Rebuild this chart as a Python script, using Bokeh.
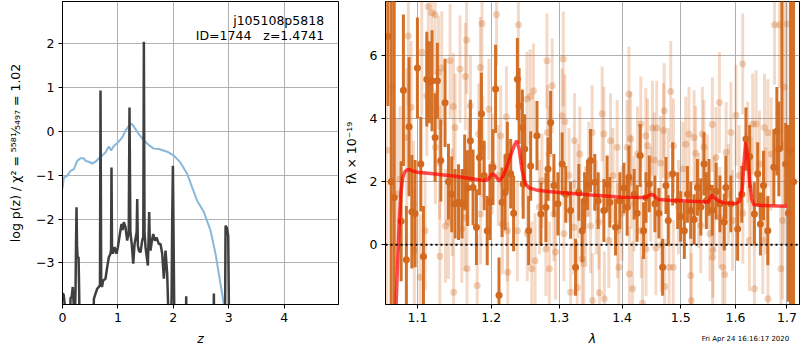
from bokeh.plotting import figure
from bokeh.layouts import row
from bokeh.models import (ColumnDataSource, FixedTicker, PrintfTickFormatter,
                          Label, Range1d, Span, LogAxis)
from bokeh.embed import file_html
from bokeh.resources import INLINE

# ---------------- left panel: log p(z) ----------------
z_pz = [0.000, 0.020, 0.040, 0.055, 0.130, 0.145, 0.165, 0.185, 0.200, 0.215,
        0.235, 0.245, 0.253, 0.262, 0.272, 0.290, 0.300, 0.313, 0.550, 0.566,
        0.596, 0.626, 0.656, 0.676, 0.686, 0.698, 0.712, 0.734, 0.776, 0.806,
        0.836, 0.866, 0.876, 0.884, 0.894, 0.909, 0.939, 0.975, 0.999, 1.035,
        1.065, 1.085, 1.107, 1.137, 1.167, 1.195, 1.209, 1.225, 1.252, 1.276,
        1.300, 1.338, 1.348, 1.360, 1.378, 1.408, 1.438, 1.458, 1.468, 1.480,
        1.498, 1.540, 1.552, 1.564, 1.576, 1.588, 1.612, 1.637, 1.667, 1.697,
        1.739, 1.769, 1.799, 1.829, 1.859, 1.889, 1.931, 1.968, 1.980, 1.992,
        2.005, 2.022, 2.222, 2.232, 2.242, 2.721, 2.731, 2.741, 2.930, 2.942,
        2.965, 2.990, 3.010, 4.980]
logpz = [-3.70, -3.72, -3.95, -5.0, -5.0, -3.80, -3.78, -3.55, -3.90, -5.0,
         -3.60, -2.50, -1.73, -2.60, -2.87, -2.87, -3.60, -5.0, -5.0, -3.82,
         -3.70, -3.59, -3.55, -3.50, 0.94, -3.40, -3.55, -3.40, -3.36, -3.10,
         -2.87, -2.79, -2.70, -0.82, -2.70, -2.79, -2.64, -2.79, -2.64, -2.34,
         -2.11, -2.25, -2.07, -2.19, -2.49, -2.30, 0.55, -2.30, -2.60, -3.02,
         -2.57, -2.30, -1.54, -2.60, -2.72, -2.76, -2.49, -2.40, 2.05, -2.30,
         -2.64, -3.06, -2.50, -1.84, -2.60, -2.72, -2.50, -2.34, -2.49, -2.42,
         -2.57, -2.57, -2.79, -3.36, -2.72, -3.25, -5.0, -3.85, -2.00, -0.78,
         -2.50, -5.0, -5.0, -3.76, -5.0, -5.0, -3.70, -5.0, -5.0, -2.15,
         -2.20, -2.38, -5.0, -5.0]

z_chi = [0.000, 0.024, 0.084, 0.144, 0.205, 0.265, 0.325, 0.385, 0.415, 0.475,
         0.535, 0.596, 0.656, 0.716, 0.776, 0.836, 0.878, 0.927, 0.999, 1.077,
         1.137, 1.197, 1.245, 1.288, 1.378, 1.468, 1.558, 1.649, 1.739, 1.889,
         2.010, 2.130, 2.251, 2.341, 2.430, 2.551, 2.671, 2.761, 2.821, 2.912,
         2.972]
chi_curve = [-1.30, -1.05, -1.01, -0.90, -0.86, -0.67, -0.61, -0.61, -0.67, -0.69,
             -0.73, -0.69, -0.61, -0.55, -0.48, -0.34, -0.43, -0.33, -0.25, -0.14,
             0.02, 0.13, 0.18, 0.11, -0.06, -0.20, -0.31, -0.39, -0.40, -0.46,
             -0.55, -0.71, -0.97, -1.28, -1.58, -1.84, -2.26, -2.79, -3.25, -3.95,
             -4.60]

z_ticks = [0, 1, 2, 3, 4]
logp_ticks = [-3, -2, -1, 0, 1, 2]
root_name = "j105108p5818"
id_text = "ID=1744\u00a0\u00a0\u00a0z=1.4741"

# ---------------- right panel: spectrum ----------------
lam_dark = [1.0624, 1.0665, 1.0703, 1.0791, 1.0820, 1.0858, 1.0892, 1.0928, 1.0970, 1.1000,
            1.1044, 1.1078, 1.1122, 1.1156, 1.1191, 1.1231, 1.1262, 1.1307, 1.1364, 1.1410,
            1.1454, 1.1499, 1.1546, 1.1594, 1.1630, 1.1667, 1.1708, 1.1745, 1.1792, 1.1834,
            1.1862, 1.1900, 1.1943, 1.1981, 1.2024, 1.2061, 1.2110, 1.2153, 1.2196, 1.2230,
            1.2278, 1.2320, 1.2375, 1.2400, 1.2448, 1.2460, 1.2482, 1.2540, 1.2570, 1.2664,
            1.2723, 1.2798, 1.2830, 1.2869, 1.2919, 1.2980, 1.3045, 1.3100, 1.3175, 1.3253,
            1.3304, 1.3356, 1.3394, 1.3440, 1.3489, 1.3557, 1.3610, 1.3702, 1.3755, 1.3799,
            1.3892, 1.3963, 1.4030, 1.4084, 1.4112, 1.4200, 1.4250, 1.4302, 1.4359, 1.4400,
            1.4455, 1.4552, 1.4620, 1.4684, 1.4742, 1.4782, 1.4859, 1.4947, 1.5000, 1.5065,
            1.5120, 1.5179, 1.5240, 1.5299, 1.5360, 1.5418, 1.5460, 1.5509, 1.5570, 1.5640,
            1.5710, 1.5790, 1.5820, 1.5914, 1.6041, 1.6120, 1.6199, 1.6270, 1.6361, 1.6425,
            1.6478, 1.6537, 1.6622, 1.6740, 1.6800, 1.6840, 1.6900, 1.6975, 1.7030, 1.7073,
            1.7133]
flux_dark = [6.60, 2.00, 1.50, 0.75, 4.90, -0.47, 3.74, 1.05, 0.99, 5.60,
             2.56, -0.37, 5.25, 5.15, 5.20, 3.40, 5.20, 2.67, 4.50, 2.00,
             1.60, 1.30, 1.35, 1.30, 2.30, 1.80, 3.30, 1.82, 0.56, 2.77,
             4.15, 2.20, 0.45, 1.35, 2.46, 4.94, -1.60, 1.35, 1.66, 2.80,
             2.25, 1.00, 5.25, 4.40, 3.72, 1.93, 3.04, 0.45, 2.50, 3.46,
             0.98, 1.19, 2.40, 3.88, 1.88, 1.30, 2.56, 1.60, 1.09, -0.71,
             1.66, 0.45, 1.40, 1.90, 2.67, 1.98, 1.40, 1.09, 1.93, 1.35,
             0.56, 1.40, 1.80, 1.19, 2.14, 1.60, 1.00, 2.83, 0.45, 1.50,
             1.93, 1.30, 1.00, -0.71, 1.88, 0.77, 2.25, 1.40, 0.90, 0.45,
             1.60, 1.09, 0.80, 1.82, 1.20, 2.56, 1.40, 1.82, 1.10, 1.70,
             1.30, 0.72, 1.82, 1.30, 0.50, 1.60, 3.35, 2.80, 0.98, 2.25,
             0.66, 1.88, 0.45, 2.46, 3.60, 3.04, 8.50, 2.56, 1.00, 3.00,
             2.00]
err_dark = [2.2, 9.0, 8.0, 1.9, 2.4, 1.7, 2.2, 1.8, 1.7, 1.6,
            1.5, 1.6, 1.5, 1.3, 1.6, 1.4, 1.2, 1.3, 1.4, 1.2,
            1.2, 1.1, 1.2, 1.1, 1.2, 1.2, 1.3, 1.2, 1.2, 1.2,
            1.3, 1.1, 1.1, 1.2, 1.2, 1.4, 1.2, 1.1, 1.2, 1.1,
            1.1, 1.2, 1.3, 1.2, 1.2, 1.1, 1.1, 1.1, 1.1, 1.1,
            1.0, 1.1, 1.0, 1.0, 1.0, 1.0, 1.0, 0.9, 0.9, 0.9,
            0.9, 1.0, 0.9, 0.8, 1.0, 0.9, 0.9, 1.0, 0.9, 0.8,
            0.9, 0.9, 0.8, 0.9, 1.0, 0.8, 0.9, 1.0, 0.9, 0.8,
            0.9, 0.9, 0.8, 0.9, 0.9, 0.8, 1.0, 0.9, 0.8, 0.9,
            0.9, 0.9, 0.8, 0.9, 0.9, 1.0, 0.9, 0.9, 0.8, 0.9,
            0.9, 0.9, 1.0, 0.9, 1.0, 0.9, 1.0, 1.0, 1.0, 1.0,
            1.0, 1.1, 1.1, 1.2, 1.4, 1.5, 5.5, 1.3, 2.8, 9.0,
            9.0]

lam_light = [1.0610, 1.0680, 1.0737, 1.0778, 1.0863, 1.0883, 1.0919, 1.0948, 1.0960, 1.1035,
             1.1057, 1.1100, 1.1122, 1.1142, 1.1187, 1.1231, 1.1236, 1.1276, 1.1290, 1.1295,
             1.1320, 1.1370, 1.1409, 1.1432, 1.1460, 1.1476, 1.1480, 1.1499, 1.1566, 1.1590,
             1.1633, 1.1640, 1.1656, 1.1662, 1.1686, 1.1708, 1.1802, 1.1824, 1.1846, 1.1850,
             1.1870, 1.1880, 1.1967, 1.2014, 1.2075, 1.2134, 1.2158, 1.2216, 1.2230, 1.2236,
             1.2375, 1.2390, 1.2515, 1.2520, 1.2563, 1.2587, 1.2612, 1.2636, 1.2738, 1.2798,
             1.2813, 1.2820, 1.2844, 1.2850, 1.2893, 1.2919, 1.2944, 1.3045, 1.3062, 1.3072,
             1.3087, 1.3175, 1.3227, 1.3237, 1.3278, 1.3320, 1.3356, 1.3383, 1.3409, 1.3489,
             1.3514, 1.3520, 1.3622, 1.3630, 1.3675, 1.3702, 1.3710, 1.3783, 1.3810, 1.3919,
             1.3925, 1.3947, 1.4084, 1.4112, 1.4120, 1.4140, 1.4173, 1.4200, 1.4256, 1.4312,
             1.4320, 1.4341, 1.4396, 1.4400, 1.4425, 1.4509, 1.4540, 1.4569, 1.4583, 1.4652,
             1.4660, 1.4700, 1.4712, 1.4720, 1.4798, 1.4826, 1.4870, 1.4873, 1.5090, 1.5148,
             1.5179, 1.5190, 1.5238, 1.5268, 1.5359, 1.5389, 1.5418, 1.5526, 1.5570, 1.5575,
             1.5580, 1.5609, 1.5638, 1.5700, 1.5705, 1.5761, 1.5800, 1.5825, 1.5914, 1.5946,
             1.6010, 1.6137, 1.6140, 1.6232, 1.6265, 1.6328, 1.6361, 1.6393, 1.6459, 1.6524,
             1.6557, 1.6622, 1.6625, 1.6687, 1.6754, 1.6853, 1.6880, 1.6913, 1.6950, 1.7000,
             1.3150, 1.3290, 1.3460, 1.3580, 1.3850, 1.4000, 1.4150, 1.4480, 1.4780, 1.4960,
             1.5040, 1.5320, 1.5480, 1.5870, 1.6070, 1.6300, 1.6580, 1.2700, 1.2450, 1.2100]
flux_light = [3.00, 5.00, 1.61, 2.09, 3.40, 6.62, 4.36, 1.30, -0.18, -1.03,
              6.10, 0.45, 4.72, 7.54, 7.35, 7.29, 3.09, 5.46, 2.60, -0.36,
              5.60, 0.60, 0.72, 5.83, 1.35, 4.38, -1.50, 3.72, 5.57, 0.50,
              0.87, 5.33, 6.49, -0.76, 2.30, 4.41, -1.29, 3.51, 5.62, 0.98,
              7.01, 3.10, 4.30, 2.56, 7.30, 3.46, 0.66, 4.06, 0.45, -0.87,
              0.45, 6.97, 4.62, 0.35, 4.70, -0.76, 4.88, -0.50, 2.03, -0.13,
              5.83, 3.56, 2.88, -0.76, 5.04, 0.98, -0.23, 4.09, 5.89, 0.35,
              3.90, -1.50, 0.56, 3.30, -1.36, 2.88, -0.44, -0.60, 0.98, 0.60,
              3.56, -1.76, 0.72, -1.52, 4.15, 3.51, -1.71, 0.14, 3.30, 3.09,
              0.45, -0.71, 3.09, 4.78, -0.92, 3.35, -1.39, 1.30, 2.88, 3.83,
              0.45, -1.85, 3.46, -0.13, 3.14, 3.70, 2.69, -0.10, 3.70, 2.59,
              0.00, 3.62, 4.25, -1.32, -0.71, 4.86, -0.71, 3.14, 3.19, 3.51,
              -0.97, -1.76, 3.40, 2.90, 0.61, 3.51, 3.10, 0.35, 3.81, -0.39,
              -0.18, 1.30, 2.77, 4.51, 0.87, -0.71, -0.94, 2.93, 3.56, 0.77,
              4.11, 5.73, 1.00, 2.93, 0.14, 3.83, -1.39, 3.83, 2.56, 0.14,
              3.72, 3.55, -1.71, 2.88, 6.97, 6.97, -0.76, 0.77, 5.00, 7.00,
              2.20, 1.70, 2.40, 1.20, 2.20, 1.00, 2.00, 1.60, 2.20, 1.20,
              2.40, 1.40, 2.00, 1.60, 2.20, 1.80, 1.40, 1.20, 2.80, 2.20]
err_light = [6.0, 4.0, 2.4, 2.3, 2.2, 2.2, 2.1, 2.0, 2.0, 2.0,
             2.0, 1.9, 1.9, 1.9, 1.9, 1.9, 1.8, 1.8, 1.8, 1.8,
             1.8, 1.8, 1.8, 1.8, 1.7, 1.7, 1.7, 1.7, 1.7, 1.7,
             1.7, 1.7, 1.7, 1.7, 1.7, 1.6, 1.6, 1.6, 1.6, 1.6,
             1.6, 1.6, 1.6, 1.6, 1.6, 1.6, 1.6, 1.6, 1.6, 1.6,
             1.6, 1.6, 1.5, 1.5, 1.5, 1.5, 1.5, 1.5, 1.5, 1.5,
             1.5, 1.5, 1.5, 1.5, 1.5, 1.5, 1.5, 1.5, 1.5, 1.5,
             1.5, 1.5, 1.5, 1.5, 1.5, 1.5, 1.5, 1.5, 1.5, 1.5,
             1.5, 1.5, 1.5, 1.5, 1.5, 1.5, 1.5, 1.5, 1.5, 1.5,
             1.5, 1.5, 1.5, 1.5, 1.5, 1.5, 1.5, 1.5, 1.5, 1.5,
             1.5, 1.5, 1.5, 1.5, 1.5, 1.5, 1.5, 1.5, 1.5, 1.5,
             1.5, 1.5, 1.5, 1.5, 1.5, 1.6, 1.5, 1.5, 1.5, 1.5,
             1.5, 1.5, 1.5, 1.5, 1.5, 1.5, 1.5, 1.5, 1.5, 1.5,
             1.5, 1.5, 1.6, 1.6, 1.6, 1.6, 1.6, 1.6, 1.6, 1.6,
             1.6, 1.6, 1.6, 1.6, 1.6, 1.6, 1.6, 1.7, 1.7, 1.7,
             1.7, 1.7, 1.7, 1.8, 1.9, 2.0, 2.0, 2.5, 5.0, 4.0,
             1.5, 1.5, 1.5, 1.5, 1.5, 1.5, 1.5, 1.5, 1.5, 1.5,
             1.5, 1.5, 1.5, 1.6, 1.6, 1.6, 1.7, 1.5, 1.6, 1.6]

lam_model = [1.0705, 1.0728, 1.0750, 1.0770, 1.0790, 1.0812, 1.0840, 1.0870, 1.0900, 1.0950,
             1.1000, 1.1200, 1.1500, 1.1800, 1.1900, 1.1960, 1.2010, 1.2060, 1.2110, 1.2160,
             1.2220, 1.2280, 1.2330, 1.2365, 1.2400, 1.2440, 1.2490, 1.2550, 1.2650, 1.2800,
             1.3000, 1.3500, 1.4000, 1.4400, 1.4480, 1.4530, 1.4600, 1.4800, 1.5200, 1.5500,
             1.5560, 1.5600, 1.5700, 1.5800, 1.6000, 1.6080, 1.6130, 1.6170, 1.6195, 1.6230,
             1.6270, 1.6310, 1.6350, 1.6500, 1.7000]
flux_model = [-3.50, -1.86, -0.30, 0.87, 1.70, 2.14, 2.32, 2.38, 2.38, 2.33,
              2.30, 2.25, 2.17, 2.07, 2.04, 2.08, 2.25, 2.18, 2.02, 2.15,
              2.45, 2.85, 3.15, 3.30, 3.05, 2.40, 1.95, 1.80, 1.74, 1.70,
              1.66, 1.58, 1.51, 1.50, 1.60, 1.58, 1.44, 1.41, 1.38, 1.36,
              1.58, 1.50, 1.38, 1.33, 1.30, 1.38, 1.80, 2.80, 3.25, 2.85,
              2.00, 1.45, 1.27, 1.25, 1.22]

lam_ticks = [1.1, 1.2, 1.3, 1.4, 1.5, 1.6, 1.7]
flux_ticks = [0, 2, 4, 6]
timestamp = "Fri Apr 24 16:16:17 2020"
timestamp_lam = [1.619]

# ---------------- styling helpers ----------------
FONT = "DejaVu Sans"
ORANGE = "#d2691e"


def style(p):
    p.background_fill_color = "white"
    p.border_fill_color = "white"
    p.outline_line_color = "black"
    p.outline_line_width = 1
    p.outline_line_alpha = 1
    for ax in p.axis:
        ax.axis_line_color = "black"
        ax.major_tick_line_color = "black"
        ax.major_tick_out = 4
        ax.major_tick_in = 0
        ax.minor_tick_line_color = None
        ax.major_label_text_font = FONT
        ax.major_label_text_font_size = "12.5px"
        ax.major_label_text_color = "black"
        ax.axis_label_text_font = FONT
        ax.axis_label_text_font_size = "12.5px"
        ax.axis_label_text_color = "black"
        ax.major_label_standoff = 4
    p.grid.grid_line_color = "#b0b0b0"
    p.grid.grid_line_width = 1


# ---------------- left figure ----------------
p1 = figure(width=340, height=350, output_backend="svg", toolbar_location=None,
            x_range=Range1d(0, 4.98), y_range=Range1d(-3.95, 2.97),
            min_border_left=62, min_border_right=2, min_border_top=1,
            min_border_bottom=46)
style(p1)
p1.line(z_chi, chi_curve, line_color="#88b7da", line_width=2)
p1.line(z_pz, logpz, line_color="#3f3f3f", line_width=2.5)
p1.xaxis.ticker = FixedTicker(ticks=z_ticks)
p1.yaxis.ticker = FixedTicker(ticks=logp_ticks)
p1.yaxis.major_label_overrides = {-3: "\u22123", -2: "\u22122", -1: "\u22121"}
p1.xaxis.axis_label = "z"
p1.xaxis.axis_label_text_font_style = "italic"
p1.xaxis.axis_label_standoff = 6
p1.yaxis.axis_label = "log p(z) / \u03c7\u00b2 = \u2075\u2075\u2078\u00b9\u2044\u2085\u2084\u2089\u2087 = 1.02"
p1.yaxis.axis_label_text_font_style = "normal"
p1.yaxis.axis_label_standoff = 10
p1.add_layout(Label(x=4.72, y=2.53, text=root_name, text_align="right",
                    text_baseline="middle", text_font=FONT, text_font_size="12.5px",
                    text_color="black"))
p1.add_layout(Label(x=4.72, y=2.20, text=id_text, text_align="right",
                    text_baseline="middle", text_font=FONT, text_font_size="12.5px",
                    text_color="black"))

# ---------------- right figure ----------------
src_light = ColumnDataSource(dict(
    x=lam_light, y=flux_light,
    lo=[f - e for f, e in zip(flux_light, err_light)],
    hi=[f + e for f, e in zip(flux_light, err_light)]))
src_dark = ColumnDataSource(dict(
    x=lam_dark, y=flux_dark,
    lo=[f - e for f, e in zip(flux_dark, err_dark)],
    hi=[f + e for f, e in zip(flux_dark, err_dark)]))

p2 = figure(width=460, height=350, output_backend="svg", toolbar_location=None,
            x_axis_type="log",
            x_range=Range1d(1.0594, 1.7254), y_range=Range1d(-1.89, 7.71),
            min_border_left=44, min_border_right=1, min_border_top=1,
            min_border_bottom=46)
style(p2)
p2.segment(x0="x", y0="lo", x1="x", y1="hi", source=src_light,
           line_color=ORANGE, line_alpha=0.25, line_width=3)
p2.scatter("x", "y", source=src_light, size=7, fill_color=ORANGE,
           fill_alpha=0.3, line_color=None)
p2.segment(x0="x", y0="lo", x1="x", y1="hi", source=src_dark,
           line_color=ORANGE, line_alpha=0.95, line_width=3)
p2.scatter("x", "y", source=src_dark, size=7, fill_color=ORANGE,
           fill_alpha=1.0, line_color=None)
p2.line(lam_model, flux_model, line_color="red", line_alpha=0.7, line_width=3.5)
p2.add_layout(Span(location=0, dimension="width", line_color="black",
                   line_dash="2 3", line_width=2))

p2.xaxis.ticker = FixedTicker(ticks=lam_ticks)
p2.xaxis.formatter = PrintfTickFormatter(format="%.1f")
p2.yaxis.ticker = FixedTicker(ticks=flux_ticks)
p2.xaxis.axis_label = "\u03bb"
p2.xaxis.axis_label_text_font_style = "italic"
p2.xaxis.axis_label_standoff = 6
p2.yaxis.axis_label = "f\u03bb \u00d7 10\u207b\u00b9\u2079"
p2.yaxis.axis_label_text_font_style = "normal"
p2.yaxis.axis_label_standoff = 8

# timestamp drawn as the single tick label of an invisible extra axis
stamp_axis = LogAxis(ticker=FixedTicker(ticks=timestamp_lam),
                     formatter=PrintfTickFormatter(format=timestamp),
                     axis_line_color=None, major_tick_line_color=None,
                     minor_tick_line_color=None, major_tick_out=0, major_tick_in=0,
                     major_label_standoff=-14, major_label_text_font=FONT,
                     major_label_text_font_size="7px",
                     major_label_text_color="black")
p2.add_layout(stamp_axis, "below")

layout = row(p1, p2)
open("out.html", "w").write(file_html(layout, INLINE))
